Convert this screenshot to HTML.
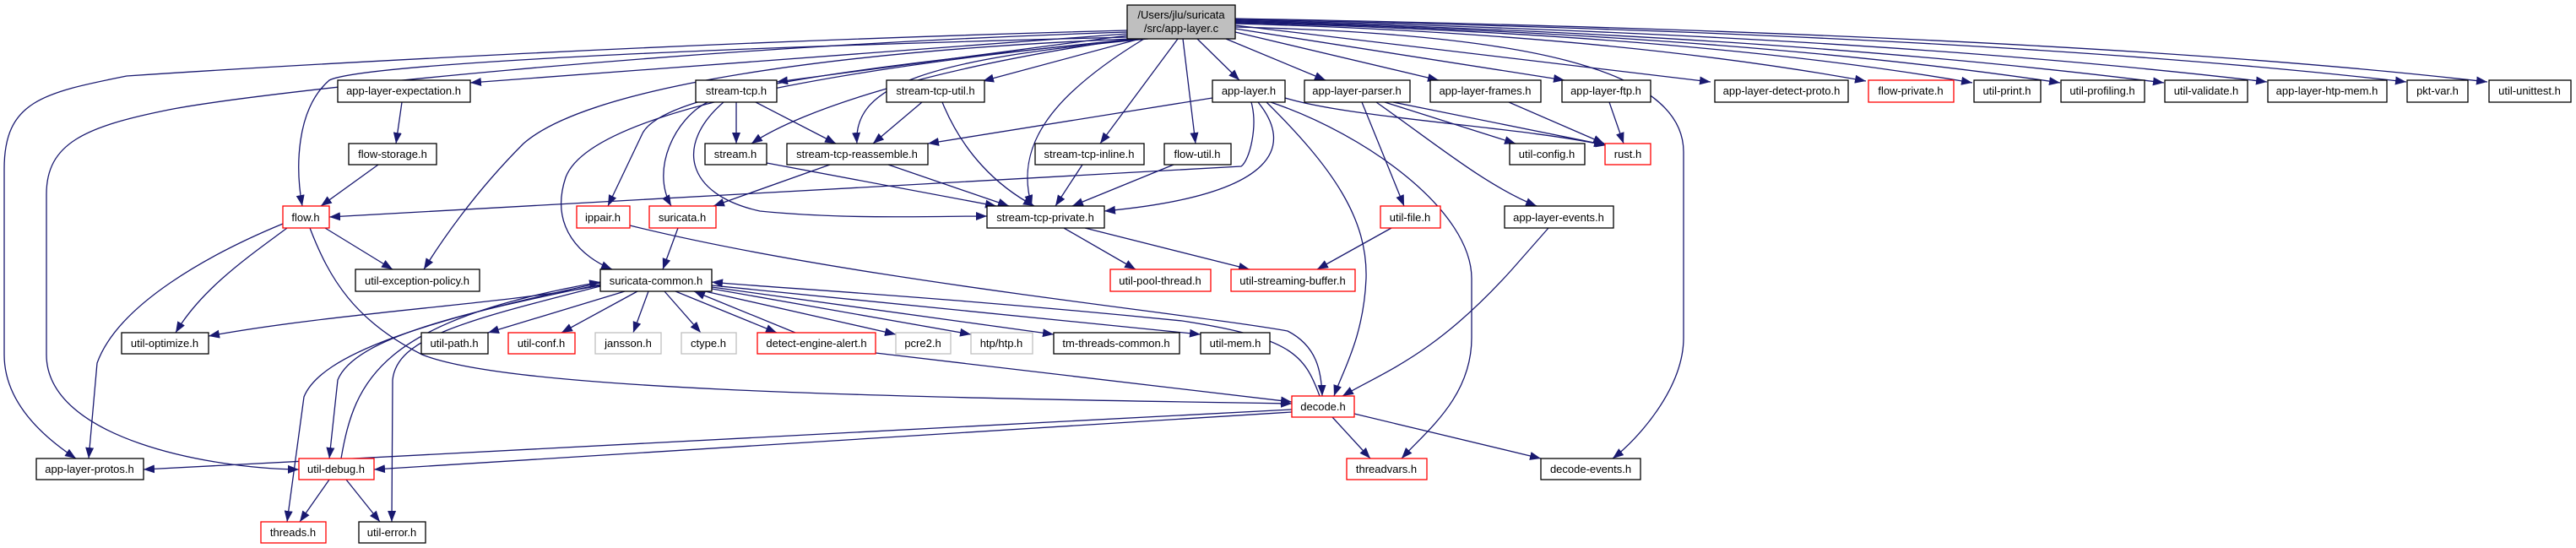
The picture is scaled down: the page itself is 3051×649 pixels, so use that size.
<!DOCTYPE html>
<html><head><meta charset="utf-8"><style>html,body{margin:0;padding:0;background:#fff}svg{display:block}</style></head><body>
<svg width="3051" height="649" viewBox="0 0 3051 649" xmlns="http://www.w3.org/2000/svg" font-family="Liberation Sans, sans-serif" font-size="13">
<defs><marker id="a" markerUnits="userSpaceOnUse" markerWidth="14" markerHeight="11" refX="13" refY="5" orient="auto"><path d="M0,0 L13,5 L0,10 z" fill="#191970"/></marker></defs>
<g fill="none" stroke="#191970" stroke-width="1.3" marker-end="url(#a)">
<path d="M1335,40 L557,98"/>
<path d="M1335,42 L920,97"/>
<path d="M1350,46 L1164,96"/>
<path d="M1418,46 L1468,95"/>
<path d="M1452,46 L1570,95"/>
<path d="M1463,38 L1704,95"/>
<path d="M1463,34 L1853,95"/>
<path d="M1463,30 L2026,97"/>
<path d="M1463,28 Q1900,40 2210,96"/>
<path d="M1463,27 Q2000,40 2336,98"/>
<path d="M1463,26 Q2050,40 2440,98"/>
<path d="M1463,25 Q2100,40 2563,98"/>
<path d="M1463,24 Q2200,40 2685,97"/>
<path d="M1463,23 Q2350,40 2850,97"/>
<path d="M1463,22 Q2450,40 2946,97"/>
<path d="M1335,44 C700,60 420,80 390,95 C350,130 350,200 358,244"/>
<path d="M1340,46 C1000,60 700,100 620,170 C560,230 520,290 502,319"/>
<path d="M1345,46 C1000,80 700,130 670,210 C650,270 690,305 725,319"/>
<path d="M1350,46 C1000,80 780,110 760,160 L720,244"/>
<path d="M1335,36 C800,50 300,80 150,90 C50,110 5,120 5,200 L5,420 C5,470 40,510 90,543"/>
<path d="M1335,38 C800,55 300,110 200,130 C100,150 55,170 55,230 L55,420 C55,520 250,555 354,556"/>
<path d="M1340,46 C1100,80 950,130 890,170"/>
<path d="M1360,46 C1100,70 1010,100 1015,170"/>
<path d="M1395,46 L1303,170"/>
<path d="M1401,46 L1416,170"/>
<path d="M1355,46 C1250,110 1200,170 1222,244"/>
<path d="M1463,32 C1800,40 1994,80 1994,180 L1994,400 C1994,460 1940,520 1910,543"/>
<path d="M476,121 L469,170"/>
<path d="M448,195 L380,244"/>
<path d="M872,121 L872,170"/>
<path d="M895,121 L990,170"/>
<path d="M838,121 C800,140 770,200 795,244"/>
<path d="M857,121 C800,170 810,230 900,250 C1000,260 1100,256 1169,256"/>
<path d="M1092,121 L1034,170"/>
<path d="M1116,121 C1140,180 1180,220 1225,244"/>
<path d="M1436,116 L1099,170"/>
<path d="M1482,121 C1490,150 1480,190 1470,197 L390,257"/>
<path d="M1490,121 C1530,170 1520,230 1308,250"/>
<path d="M1500,121 C1580,200 1620,260 1618,330 C1615,400 1590,440 1580,469"/>
<path d="M1505,121 C1620,160 1743,250 1743,330 L1743,400 C1743,470 1690,510 1660,543"/>
<path d="M1522,116 C1600,140 1800,150 1901,172"/>
<path d="M1650,121 L1903,172"/>
<path d="M1640,121 L1795,170"/>
<path d="M1613,121 L1663,244"/>
<path d="M1630,121 C1700,170 1760,220 1820,244"/>
<path d="M1787,121 L1900,170"/>
<path d="M1906,121 L1923,170"/>
<path d="M908,193 L1180,244"/>
<path d="M983,195 L845,244"/>
<path d="M1052,195 L1195,244"/>
<path d="M1282,195 L1250,244"/>
<path d="M1390,195 L1270,244"/>
<path d="M1260,270 L1345,319"/>
<path d="M1285,270 L1480,319"/>
<path d="M1648,270 L1560,319"/>
<path d="M1834,270 L1790,320 C1700,420 1640,440 1590,469"/>
<path d="M803,270 L785,319"/>
<path d="M746,267 C1000,330 1400,370 1525,392 C1560,410 1565,440 1566,469"/>
<path d="M385,270 L465,319"/>
<path d="M340,270 C300,300 240,340 208,394"/>
<path d="M335,265 C250,300 140,360 115,430 L105,543"/>
<path d="M367,270 C390,330 420,380 500,420 C600,460 1000,470 1530,478"/>
<path d="M711,338 C600,360 400,370 247,398"/>
<path d="M740,345 L578,394"/>
<path d="M755,345 L665,394"/>
<path d="M768,345 L750,394"/>
<path d="M787,345 L830,394"/>
<path d="M800,345 L920,394"/>
<path d="M942,394 L822,345"/>
<path d="M835,345 L1061,396"/>
<path d="M843,342 L1150,396"/>
<path d="M843,340 L1248,396"/>
<path d="M843,338 L1422,396"/>
<path d="M711,337 C550,370 420,400 400,450 L390,543"/>
<path d="M404,543 C420,450 450,380 711,334"/>
<path d="M711,335 C500,380 380,420 360,470 L340,618"/>
<path d="M711,339 C550,380 470,400 465,450 L464,618"/>
<path d="M1037,418 L1530,476"/>
<path d="M1563,469 C1545,420 1530,400 1400,380 C1100,350 900,340 843,334"/>
<path d="M1530,485 L170,556"/>
<path d="M1530,488 L443,556"/>
<path d="M1578,494 L1623,543"/>
<path d="M1604,490 L1825,543"/>
<path d="M390,568 L355,618"/>
<path d="M410,568 L450,618"/>
</g>
<g stroke-width="1.3" text-anchor="middle">
<rect x="1335" y="6" width="128" height="40" fill="#bfbfbf" stroke="#000"/>
<text x="1399" y="22">/Users/jlu/suricata</text><text x="1399" y="38">/src/app-layer.c</text>
</g>
<g text-anchor="middle">
<g fill="#fff" stroke="#000" stroke-width="1.3">
<rect x="400" y="95" width="157" height="26"/><rect x="824" y="95" width="96" height="26"/><rect x="1050" y="95" width="116" height="26"/><rect x="1436" y="95" width="86" height="26"/><rect x="1545" y="95" width="125" height="26"/><rect x="1694" y="95" width="131" height="26"/><rect x="1850" y="95" width="105" height="26"/><rect x="2031" y="95" width="158" height="26"/><rect x="2338" y="95" width="79" height="26"/><rect x="2441" y="95" width="99" height="26"/><rect x="2564" y="95" width="98" height="26"/><rect x="2686" y="95" width="141" height="26"/><rect x="2851" y="95" width="72" height="26"/><rect x="2948" y="95" width="97" height="26"/>
<rect x="413" y="170" width="104" height="25"/><rect x="835" y="170" width="73" height="25"/><rect x="932" y="170" width="167" height="25"/><rect x="1226" y="170" width="129" height="25"/><rect x="1379" y="170" width="79" height="25"/><rect x="1788" y="170" width="89" height="25"/>
<rect x="1169" y="244" width="139" height="26"/><rect x="1782" y="244" width="129" height="26"/>
<rect x="421" y="319" width="147" height="26"/><rect x="711" y="319" width="132" height="26"/>
<rect x="144" y="394" width="103" height="25"/><rect x="499" y="394" width="79" height="25"/><rect x="1248" y="394" width="149" height="25"/><rect x="1422" y="394" width="82" height="25"/>
<rect x="43" y="543" width="127" height="25"/><rect x="1825" y="543" width="118" height="25"/>
<rect x="425" y="618" width="79" height="25"/>
</g>
<g fill="#fff" stroke="#ff0000" stroke-width="1.3">
<rect x="2213" y="95" width="101" height="26"/><rect x="1901" y="170" width="54" height="25"/>
<rect x="335" y="244" width="55" height="26"/><rect x="683" y="244" width="63" height="26"/><rect x="769" y="244" width="79" height="26"/><rect x="1635" y="244" width="71" height="26"/>
<rect x="1315" y="319" width="119" height="26"/><rect x="1458" y="319" width="147" height="26"/>
<rect x="602" y="394" width="79" height="25"/><rect x="897" y="394" width="140" height="25"/>
<rect x="1530" y="469" width="74" height="25"/><rect x="354" y="543" width="89" height="25"/><rect x="1595" y="543" width="95" height="25"/><rect x="309" y="618" width="77" height="25"/>
</g>
<g fill="#fff" stroke="#bfbfbf" stroke-width="1.3">
<rect x="705" y="394" width="78" height="25"/><rect x="807" y="394" width="65" height="25"/><rect x="1061" y="394" width="65" height="25"/><rect x="1150" y="394" width="73" height="25"/>
</g>
<g fill="#000">
<text x="478" y="112">app-layer-expectation.h</text><text x="872" y="112">stream-tcp.h</text><text x="1108" y="112">stream-tcp-util.h</text><text x="1479" y="112">app-layer.h</text><text x="1607" y="112">app-layer-parser.h</text><text x="1759" y="112">app-layer-frames.h</text><text x="1902" y="112">app-layer-ftp.h</text><text x="2110" y="112">app-layer-detect-proto.h</text><text x="2263" y="112">flow-private.h</text><text x="2377" y="112">util-print.h</text><text x="2490" y="112">util-profiling.h</text><text x="2613" y="112">util-validate.h</text><text x="2756" y="112">app-layer-htp-mem.h</text><text x="2887" y="112">pkt-var.h</text><text x="2996" y="112">util-unittest.h</text>
<text x="465" y="187">flow-storage.h</text><text x="871" y="187">stream.h</text><text x="1015" y="187">stream-tcp-reassemble.h</text><text x="1290" y="187">stream-tcp-inline.h</text><text x="1418" y="187">flow-util.h</text><text x="1832" y="187">util-config.h</text><text x="1928" y="187">rust.h</text>
<text x="362" y="262">flow.h</text><text x="714" y="262">ippair.h</text><text x="808" y="262">suricata.h</text><text x="1238" y="262">stream-tcp-private.h</text><text x="1670" y="262">util-file.h</text><text x="1846" y="262">app-layer-events.h</text>
<text x="494" y="337">util-exception-policy.h</text><text x="777" y="337">suricata-common.h</text><text x="1374" y="337">util-pool-thread.h</text><text x="1531" y="337">util-streaming-buffer.h</text>
<text x="195" y="411">util-optimize.h</text><text x="538" y="411">util-path.h</text><text x="641" y="411">util-conf.h</text><text x="744" y="411">jansson.h</text><text x="839" y="411">ctype.h</text><text x="967" y="411">detect-engine-alert.h</text><text x="1093" y="411">pcre2.h</text><text x="1186" y="411">htp/htp.h</text><text x="1322" y="411">tm-threads-common.h</text><text x="1463" y="411">util-mem.h</text>
<text x="1567" y="486">decode.h</text>
<text x="106" y="560">app-layer-protos.h</text><text x="398" y="560">util-debug.h</text><text x="1642" y="560">threadvars.h</text><text x="1884" y="560">decode-events.h</text>
<text x="347" y="635">threads.h</text><text x="464" y="635">util-error.h</text>
</g>
</g>
</svg>
</body></html>
